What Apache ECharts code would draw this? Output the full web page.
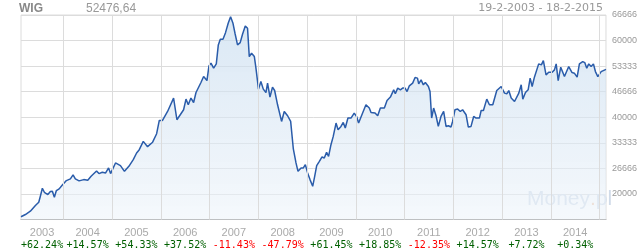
<!DOCTYPE html>
<html><head><meta charset="utf-8">
<script src="https://cdn.jsdelivr.net/npm/echarts@6/dist/echarts.min.js"></script>
<style>html,body{margin:0;padding:0;background:#fff}#c{width:640px;height:250px}</style>
</head><body><div id="c"></div>
<script>
const dates = ['2003-02-19','2003-03-24','2003-04-30','2003-06-07','2003-07-02','2003-07-14','2003-07-29','2003-08-13','2003-09-08','2003-09-27','2003-10-12','2003-10-27','2003-11-11','2003-12-02','2003-12-24',
'2004-01-25','2004-02-24','2004-03-15','2004-04-01','2004-04-29','2004-06-03','2004-07-03','2004-07-28','2004-09-07','2004-09-25','2004-10-20','2004-11-14','2004-12-06','2004-12-21',
'2005-01-27','2005-03-05','2005-04-04','2005-05-07','2005-06-09','2005-07-04','2005-07-24','2005-08-23','2005-09-24','2005-11-01','2005-12-01','2005-12-21',
'2006-01-14','2006-02-21','2006-04-07','2006-05-02','2006-05-14','2006-06-21','2006-07-09','2006-07-26','2006-08-15','2006-09-04','2006-09-22','2006-10-29','2006-11-18','2006-11-30','2006-12-13','2006-12-28',
'2007-01-12','2007-02-01','2007-02-21','2007-03-08','2007-03-23','2007-04-12','2007-05-01','2007-05-21','2007-06-08','2007-06-26','2007-07-11','2007-07-30','2007-08-19','2007-09-06','2007-09-26','2007-10-13','2007-10-26','2007-11-12','2007-12-03','2007-12-15',
'2008-01-03','2008-01-21','2008-02-08','2008-02-28','2008-03-11','2008-03-29','2008-04-17','2008-05-03','2008-05-25','2008-06-24','2008-07-14','2008-08-08','2008-08-31','2008-09-20','2008-10-10','2008-10-25','2008-11-17','2008-12-04','2008-12-19',
'2009-01-05','2009-01-23','2009-02-12','2009-02-27','2009-03-14','2009-04-03','2009-04-23','2009-05-10','2009-05-27','2009-06-11','2009-06-29','2009-07-16','2009-08-06','2009-08-21','2009-09-12','2009-09-29','2009-10-14','2009-11-03','2009-11-26','2009-12-20',
'2010-01-07','2010-01-22','2010-02-21','2010-03-18','2010-04-12','2010-04-25','2010-05-25','2010-06-14','2010-07-04','2010-08-03','2010-08-23','2010-09-17','2010-10-12','2010-10-24','2010-11-11','2010-12-01','2010-12-18',
'2011-01-05','2011-01-20','2011-02-06','2011-03-03','2011-03-21','2011-04-08','2011-04-17','2011-05-05','2011-05-22','2011-06-06','2011-06-29','2011-07-11','2011-07-23','2011-08-07','2011-08-25','2011-09-11','2011-10-01','2011-10-21','2011-11-08','2011-11-25','2011-12-15','2011-12-27',
'2012-01-14','2012-02-03','2012-02-23','2012-03-11','2012-04-06','2012-04-23','2012-05-13','2012-06-02','2012-06-20','2012-07-15','2012-07-28','2012-08-14','2012-09-08','2012-09-28','2012-10-23','2012-11-22','2012-12-25',
'2013-01-19','2013-02-05','2013-02-20','2013-03-10','2013-04-04','2013-04-17','2013-05-06','2013-05-24','2013-06-05','2013-06-25','2013-07-15','2013-07-30','2013-08-14','2013-08-31','2013-09-13','2013-10-02','2013-10-22','2013-11-06','2013-11-26','2013-12-16',
'2014-01-11','2014-01-28','2014-02-10','2014-02-25','2014-03-16','2014-04-13','2014-05-15','2014-06-09','2014-06-26','2014-07-17','2014-08-03','2014-08-28','2014-09-12','2014-09-27','2014-10-12','2014-10-30','2014-11-16','2014-12-01','2014-12-19',
'2015-01-13','2015-02-18'];
const values = [14050,14634,15492,16975,17834,19395,21476,20436,19837,20618,20696,19135,20878,21320,22257,
23479,23922,24962,23922,23401,23739,23557,24598,26003,25300,25639,25483,26783,25300,
28084,27382,25899,27200,28943,30686,31544,33704,32325,33495,35707,39167,
39167,41509,45000,39349,38907,41951,44735,43252,45000,43850,46451,49053,50614,50796,49573,53398,
54100,52800,53918,58861,60344,60344,62061,64506,66223,64506,61905,58861,59460,61723,63805,63206,55818,56702,55818,52800,
47337,49314,47337,46452,48898,45256,47857,46972,43252,38907,41509,40390,38907,31727,28084,25899,26783,26783,27642,
25483,23740,21996,24598,27382,28500,29645,29385,30842,29801,32845,35004,38490,36748,37606,38647,37190,39792,39792,41093,
40208,38491,41093,43252,42394,41249,41093,40390,42394,42394,44371,45256,47154,46113,47597,47154,47597,
47597,46712,48195,48898,50355,50199,48716,49756,48455,49053,48013,46712,39792,42394,40390,37606,40208,41509,37606,37788,37450,38907,
41951,42133,41509,41951,40650,37450,37606,40208,39792,39792,41769,41769,44735,43252,43252,46972,48013,
46296,46113,46972,45000,44111,44111,46296,48455,44735,46452,47154,50199,48013,50459,50355,53918,53658,54777,51056,51759,
51759,52357,53918,49573,53059,50614,53215,51654,51498,50458,53918,54516,54256,52800,53918,53215,53918,51915,50614,
51915,52476.64];
const years = [2003,2004,2005,2006,2007,2008,2009,2010,2011,2012,2013,2014];
const yearChanges = [62.24,14.57,54.33,37.52,-11.43,-47.79,61.45,18.85,-12.35,14.57,7.72,0.34];
const gridYears = [2004,2005,2006,2007,2008,2009,2010,2011,2012,2013,2014,2015];
const indexName = 'WIG';
const lastValue = '52476,64';
const rangeText = '19-2-2003 - 18-2-2015';
const startDate = '2003-02-19', endDate = '2015-02-18';
const yMin = 40000/3, yMax = 200000/3, yStep = 20000/3;

function ts(s){const p=s.split('-');return new Date(+p[0],+p[1]-1,+p[2]).getTime();}
const xMin = ts(startDate), xMax = ts(endDate);
const labelVals = years.map(y => {
  const a = Math.max(new Date(y,0,1).getTime(), xMin);
  const b = Math.min(new Date(y+1,0,1).getTime(), xMax);
  return (a+b)/2;
});
const seriesData = dates.map((d,i)=>[ts(d), values[i]]);

const chart = echarts.init(document.getElementById('c'), null, {renderer:'canvas'});
chart.setOption({
  animation:false,
  title:[
    {text:indexName,left:19,top:3,padding:0,textStyle:{fontFamily:'Liberation Sans',fontSize:12,fontWeight:'bold',color:'#888'}},
    {text:lastValue,left:86,top:3,padding:0,textStyle:{fontFamily:'Liberation Sans',fontSize:12,fontWeight:'normal',color:'#999'}},
    {text:rangeText,right:37,top:3,padding:0,textStyle:{fontFamily:'DejaVu Sans',fontSize:11,fontWeight:'normal',color:'#999'}}
  ],
  grid:{left:21,right:34,top:15,bottom:30,show:true,borderColor:'#dcdcdc',borderWidth:1,backgroundColor:'transparent'},
  xAxis:{type:'value',min:xMin,max:xMax,scale:true,
    axisLine:{show:true,lineStyle:{color:'#aaa',width:1}},
    axisTick:{show:false},
    splitLine:{show:false},
    axisLabel:{customValues:labelVals,margin:7,showMinLabel:true,showMaxLabel:true,
      formatter:function(v){
        const y=new Date(v).getFullYear();
        const i=years.indexOf(y);
        if(i<0)return '';
        const c=yearChanges[i];
        const t=(c>=0?'+':'-')+Math.abs(c).toFixed(2)+'%';
        return '{y|'+y+'}\n{'+(c<0?'r':'g')+'|'+t+'}';
      },
      rich:{
        y:{fontFamily:'Liberation Sans',fontSize:11,color:'#aaa',lineHeight:12,align:'center'},
        g:{fontFamily:'DejaVu Sans Mono',fontSize:10,color:'#006000',lineHeight:13,align:'center'},
        r:{fontFamily:'DejaVu Sans Mono',fontSize:10,color:'#ff0000',lineHeight:13,align:'center'}
      }
    }
  },
  yAxis:{type:'value',position:'right',min:yMin,max:yMax,interval:yStep,
    axisLine:{show:false},axisTick:{show:false},
    splitLine:{show:true,lineStyle:{color:'#dcdcdc',width:1}},
    axisLabel:{showMinLabel:false,showMaxLabel:false,margin:6,fontFamily:'Liberation Sans',fontSize:9,color:'#999',
      formatter:function(v){return String(Math.floor(v+0.01));}}
  },
  graphic:[{type:'text',left:527,top:189,z:1,silent:true,
    style:{text:'{a|Money}{b|.}{a|pl}',rich:{a:{fontFamily:'Liberation Sans',fontSize:21,fill:'#d0dbe9'},b:{fontFamily:'Liberation Sans',fontSize:21,fill:'#f1c7ab'}}}}],
  series:[
    {type:'line',data:[],z:1,silent:true,
      markLine:{silent:true,symbol:'none',label:{show:false},lineStyle:{color:'#dcdcdc',type:'solid',width:1},
        data:gridYears.map(y=>({xAxis:new Date(y,0,1).getTime()}))}},
    {type:'line',data:seriesData,z:3,symbol:'none',smooth:false,
      lineStyle:{color:'#2a5caa',width:1.5},
      areaStyle:{color:new echarts.graphic.LinearGradient(0,0,0,1,[{offset:0,color:'rgba(196,218,238,0.9)'},{offset:1,color:'rgba(238,244,250,0.85)'}])}
    }
  ]
});
</script></body></html>
